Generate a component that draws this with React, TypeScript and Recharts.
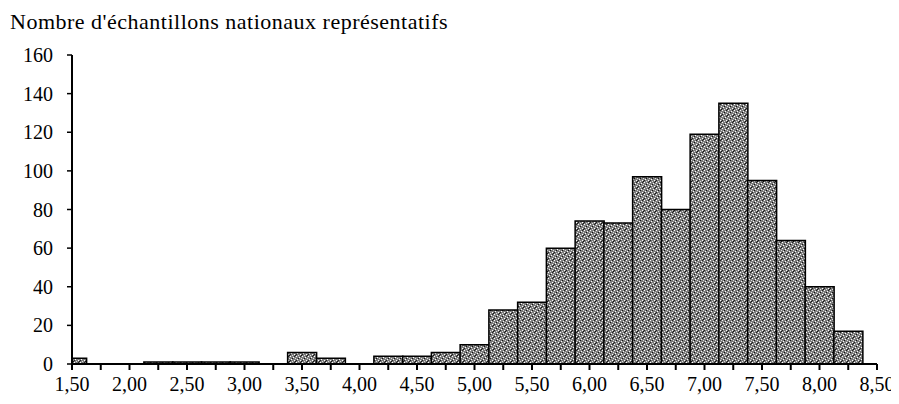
import React from "react";
import { BarChart, Bar, XAxis, YAxis } from "recharts";

// centre of each 0,25 class
const bins = [
  1.5, 1.75, 2.0, 2.25, 2.5, 2.75, 3.0, 3.25, 3.5, 3.75, 4.0, 4.25, 4.5, 4.75,
  5.0, 5.25, 5.5, 5.75, 6.0, 6.25, 6.5, 6.75, 7.0, 7.25, 7.5, 7.75, 8.0, 8.25,
];
const counts = [
  3, 0, 0, 1, 1, 1, 1, 0, 6, 3, 0, 4, 4, 6,
  10, 28, 32, 60, 74, 73, 97, 80, 119, 135, 95, 64, 40, 17,
];
const xTicks = [
  1.5, 1.75, 2.0, 2.25, 2.5, 2.75, 3.0, 3.25, 3.5, 3.75, 4.0, 4.25, 4.5, 4.75,
  5.0, 5.25, 5.5, 5.75, 6.0, 6.25, 6.5, 6.75, 7.0, 7.25, 7.5, 7.75, 8.0, 8.25, 8.5,
];
const yTicks = [0, 20, 40, 60, 80, 100, 120, 140, 160];

const data = bins.map((bin, i) => ({ bin, count: counts[i] }));

const fmtX = (v: number) =>
  Math.round(v * 100) % 50 === 0 ? v.toFixed(2).replace(".", ",") : "";

const font = { fontFamily: "'Liberation Serif', serif", fontSize: 20, fill: "#000" };

export default function App() {
  return (
    <div style={{ position: "relative", width: 891, height: 388 }}>
      <div
        style={{
          position: "absolute",
          left: 2,
          top: 1,
          fontFamily: "'Liberation Serif', serif",
          fontSize: 22,
          letterSpacing: 0.5,
          color: "#000",
          whiteSpace: "nowrap",
        }}
      >
        Nombre d'échantillons nationaux représentatifs
      </div>
      <BarChart
        width={891}
        height={388}
        data={data}
        margin={{ top: 47, right: 22, left: 14, bottom: 2 }}
        barCategoryGap={0}
        barGap={0}
      >
        <defs>
          <pattern id="stipple" width="6" height="6" patternUnits="userSpaceOnUse">
            <rect width="6" height="6" fill="#7c7c7c" />
            <rect x="0" y="0" width="1" height="1" fill="#fff" />
            <rect x="3" y="1" width="1" height="1" fill="#fff" />
            <rect x="1" y="3" width="1" height="1" fill="#fff" />
            <rect x="4" y="4" width="1" height="1" fill="#fff" />
            <rect x="5" y="2" width="1" height="1" fill="#ddd" />
            <rect x="2" y="5" width="1" height="1" fill="#ddd" />
            <rect x="2" y="2" width="1" height="1" fill="#111" />
            <rect x="5" y="5" width="1" height="1" fill="#111" />
            <rect x="0" y="4" width="1" height="1" fill="#222" />
            <rect x="4" y="0" width="1" height="1" fill="#222" />
          </pattern>
        </defs>
        <XAxis
          type="number"
          dataKey="bin"
          domain={[1.5, 8.5]}
          ticks={xTicks}
          interval={0}
          allowDataOverflow
          tickFormatter={fmtX}
          tick={font}
          tickSize={6}
          tickMargin={7}
          height={30}
          axisLine={{ stroke: "#000", strokeWidth: 2 }}
          tickLine={{ stroke: "#000", strokeWidth: 2 }}
        />
        <YAxis
          domain={[0, 160]}
          ticks={yTicks}
          interval={0}
          tick={font}
          tickSize={5}
          tickMargin={14}
          width={50}
          axisLine={{ stroke: "#000", strokeWidth: 2 }}
          tickLine={{ stroke: "#000", strokeWidth: 1.5 }}
        />
        <Bar
          dataKey="count"
          fill="url(#stipple)"
          stroke="#000"
          strokeWidth={1.5}
          isAnimationActive={false}
        />
      </BarChart>
    </div>
  );
}
